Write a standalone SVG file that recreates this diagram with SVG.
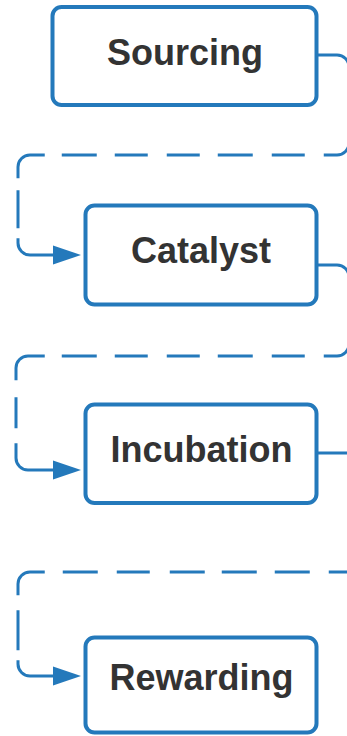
<svg xmlns="http://www.w3.org/2000/svg" width="347" height="736" viewBox="0 0 347 736">
  <style>
    .box { fill: #ffffff; stroke: #2479bb; stroke-width: 4; }
    .lbl { font-family: "Liberation Sans", Arial, sans-serif; font-weight: bold; font-size: 36px; fill: #333333; text-anchor: middle; }
    .conn { fill: none; stroke: #2479bb; stroke-width: 3; }
  </style>
  <defs>
    <marker id="arrow" viewBox="0 0 28 20" refX="0" refY="10" markerWidth="28" markerHeight="20" markerUnits="userSpaceOnUse" orient="auto">
      <path d="M0,0.5 L28,10 L0,19.5 Z" fill="#2479bb"/>
    </marker>
  </defs>
  <rect width="347" height="736" fill="#ffffff"/>
  <g id="connectors">
    <path class="conn" marker-end="url(#arrow)" stroke-dasharray="146.7 19 33 19 35 18 33 19 33 18 35 17 44.85 12 38 10 100"
      d="M317,55 H337 A12,12 0 0 1 349,67 V143 A12,12 0 0 1 337,155 H30 A12,12 0 0 0 18,167 V243 A12,12 0 0 0 30,255 H53"/>
    <path class="conn" marker-end="url(#arrow)" stroke-dasharray="137.7 19 33 19 35 18 33 19 33 18 35 17 47.85 17 31 15 100"
      d="M317,265 H337 A12,12 0 0 1 349,277 V344 A12,12 0 0 1 337,356 H28 A12,12 0 0 0 16,368 V458 A12,12 0 0 0 28,470 H53"/>
    <path class="conn" marker-end="url(#arrow)" stroke-dasharray="196.7 19 35 18 35 17 35 20 33 19 35 18 44.85 15 40 10 100"
      d="M317,453 H355 A12,12 0 0 1 367,465 V560 A12,12 0 0 1 355,572 H30 A12,12 0 0 0 18,584 V664 A12,12 0 0 0 30,676 H53"/>
  </g>
  <g id="sourcing">
    <rect class="box" x="52.5" y="7" width="264" height="98" rx="9"/>
    <text class="lbl" x="185" y="65">Sourcing</text>
  </g>
  <g id="catalyst">
    <rect class="box" x="85.5" y="205.5" width="231" height="99" rx="9"/>
    <text class="lbl" x="201" y="263">Catalyst</text>
  </g>
  <g id="incubation">
    <rect class="box" x="85.5" y="404.5" width="231" height="98.5" rx="9"/>
    <text class="lbl" x="201.5" y="462">Incubation</text>
  </g>
  <g id="rewarding">
    <rect class="box" x="85.5" y="637.5" width="231" height="95" rx="9"/>
    <text class="lbl" x="201.5" y="690">Rewarding</text>
  </g>
</svg>
